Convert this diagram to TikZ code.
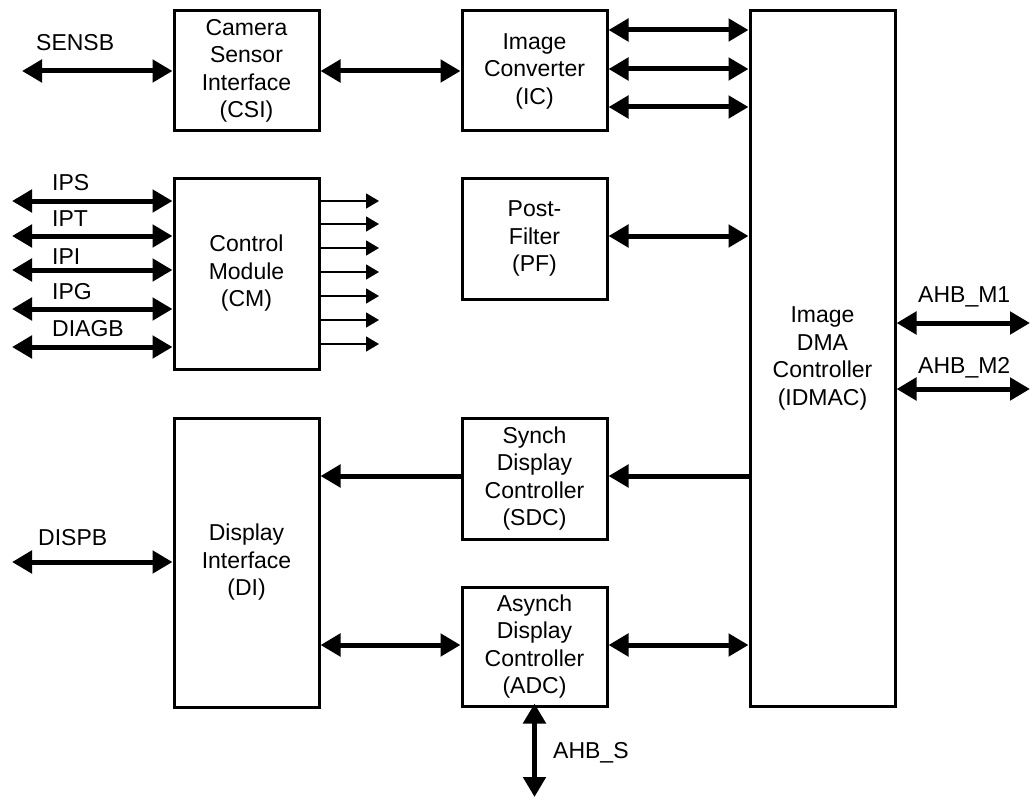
\documentclass[tikz,border=0pt]{standalone}
\usepackage{fontspec}
\setmainfont{Liberation Sans}
\usetikzlibrary{arrows.meta}
\begin{document}
\begin{tikzpicture}[x=1pt,y=-1pt,
  blk/.style={draw, line width=3pt, inner sep=0pt, align=center,
    font=\fontsize{23}{27.5}\selectfont},
  lbl/.style={anchor=west, inner sep=0pt, font=\fontsize{23}{27.5}\selectfont},
  bus/.style={line width=5pt, -{Triangle[length=20pt,width=22pt]}},
  bibus/.style={line width=5pt, {Triangle[length=20pt,width=22pt]}-{Triangle[length=20pt,width=22pt]}},
  sig/.style={line width=1.5pt, -{Triangle[length=13pt,width=15pt]}}]
\useasboundingbox (0,0) rectangle (1030,797);

% blocks
\node[blk, minimum width=145pt, minimum height=120pt] (CSI) at (246.5,71) {Camera\\Sensor\\Interface\\(CSI)};
\node[blk, minimum width=145pt, minimum height=120pt] (IC) at (534.5,71) {Image\\Converter\\(IC)};
\node[blk, minimum width=145pt, minimum height=191pt] (CM) at (246.5,273.5) {Control\\Module\\(CM)};
\node[blk, minimum width=145pt, minimum height=121pt] (PF) at (534.5,238.5) {Post-\\Filter\\(PF)};
\node[blk, minimum width=145pt, minimum height=695pt] (IDMAC) at (822.5,358.5) {Image\\DMA\\Controller\\(IDMAC)};
\node[blk, minimum width=145pt, minimum height=289pt] (DI) at (246.5,562.5) {Display\\Interface\\(DI)};
\node[blk, minimum width=145pt, minimum height=121pt] (SDC) at (534.5,478.5) {Synch\\Display\\Controller\\(SDC)};
\node[blk, minimum width=145pt, minimum height=119pt] (ADC) at (534.5,646.5) {Asynch\\Display\\Controller\\(ADC)};

% free ends
\coordinate (sensb) at (22,71);
\coordinate (dispb) at (12,562);
\coordinate (ahbs) at (534.5,797);
\coordinate (edgeR) at (1030,0);
\coordinate (edgeL) at (12,0);
\coordinate (outR) at (379,0);

% labels
\node[lbl] (lSENSB) at (36,43) {SENSB};
\node[lbl] (lIPS) at (52,183) {IPS};
\node[lbl] (lIPT) at (52,219) {IPT};
\node[lbl] (lIPI) at (52,257) {IPI};
\node[lbl] (lIPG) at (52,292) {IPG};
\node[lbl] (lDIAGB) at (52,329) {DIAGB};
\node[lbl] (lDISPB) at (38,538) {DISPB};
\node[lbl] (lM1) at (918,297) {AHB\_M1};
\node[lbl] (lM2) at (918,368) {AHB\_M2};
\node[lbl] (lS) at (553,753) {AHB\_S};

% camera path
\draw[bibus] (sensb) -- (CSI.west);
\draw[bibus] (CSI.east) -- (IC.west);
\foreach \yy in {30,69,107}
  \draw[bibus] (IC.east |- 0,\yy) -- (IDMAC.west |- 0,\yy);
\draw[bibus] (PF.east |- 0,236) -- (IDMAC.west |- 0,236);

% control module
\foreach \yy in {201,236,270,309,347}
  \draw[bibus] (edgeL |- 0,\yy) -- (CM.west |- 0,\yy);
\foreach \yy in {201,224,248,272,296,320,344}
  \draw[sig] (CM.east |- 0,\yy) -- (outR |- 0,\yy);

% display path
\draw[bus] ([xshift=3pt]IDMAC.west |- 0,476) -- (SDC.east |- 0,476);
\draw[bus] ([xshift=3pt]SDC.west |- 0,476) -- (DI.east |- 0,476);
\draw[bibus] (DI.east |- 0,645) -- (ADC.west |- 0,645);
\draw[bibus] (ADC.east |- 0,645) -- (IDMAC.west |- 0,645);
\draw[bibus] (dispb) -- (DI.west |- dispb);
\draw[bibus] ([yshift=4pt]ADC.south) -- (ahbs);

% AHB masters
\draw[bibus] (IDMAC.east |- 0,323) -- (edgeR |- 0,323);
\draw[bibus] (IDMAC.east |- 0,389) -- (edgeR |- 0,389);
\end{tikzpicture}
\end{document}
